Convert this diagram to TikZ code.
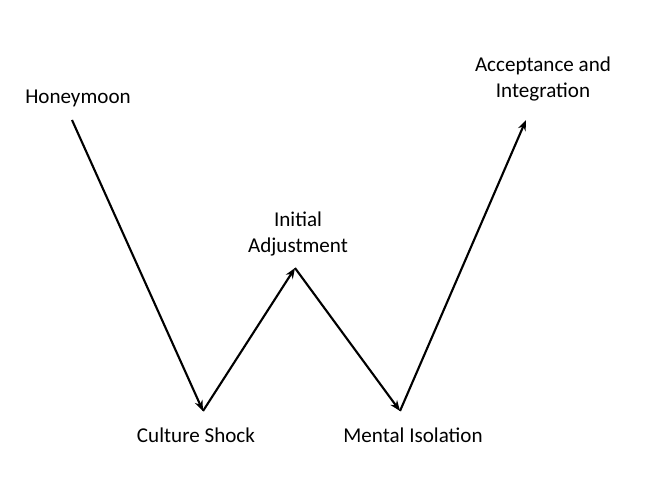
\documentclass[tikz,border=0pt]{standalone}
\usepackage{fontspec}
\setmainfont{Carlito}
\usetikzlibrary{arrows.meta,positioning}
\begin{document}
\begin{tikzpicture}[x=0.03cm, y=-0.03cm, >={Stealth[length=9pt,width=7pt]},
    stage/.style={font=\fontsize{18}{22}\selectfont, align=center, inner sep=0pt},
    wline/.style={->, line width=1.8pt}]
  \useasboundingbox (0,0) rectangle (672,484);
  % turning points
  \coordinate (p0) at (72,120);
  \coordinate (p1) at (203,411);
  \coordinate (p2) at (295,268);
  \coordinate (p3) at (400,411);
  \coordinate (p4) at (526,120);
  % labels
  \node[stage] (honey)   at (78,98)   {Honeymoon};
  \node[stage] (shock)   at (196,435) {Culture Shock};
  \node[stage] (adjust)  at (298,234) {Initial\\Adjustment};
  \node[stage] (isol)    at (413,435) {Mental Isolation};
  \node[stage] (accept)  at (543,79)  {Acceptance and\\Integration};
  % the W
  \draw[wline] (p0) -- (p1);
  \draw[wline] (p1) -- (p2);
  \draw[wline] (p2) -- (p3);
  \draw[wline] (p3) -- (p4);
\end{tikzpicture}
\end{document}
